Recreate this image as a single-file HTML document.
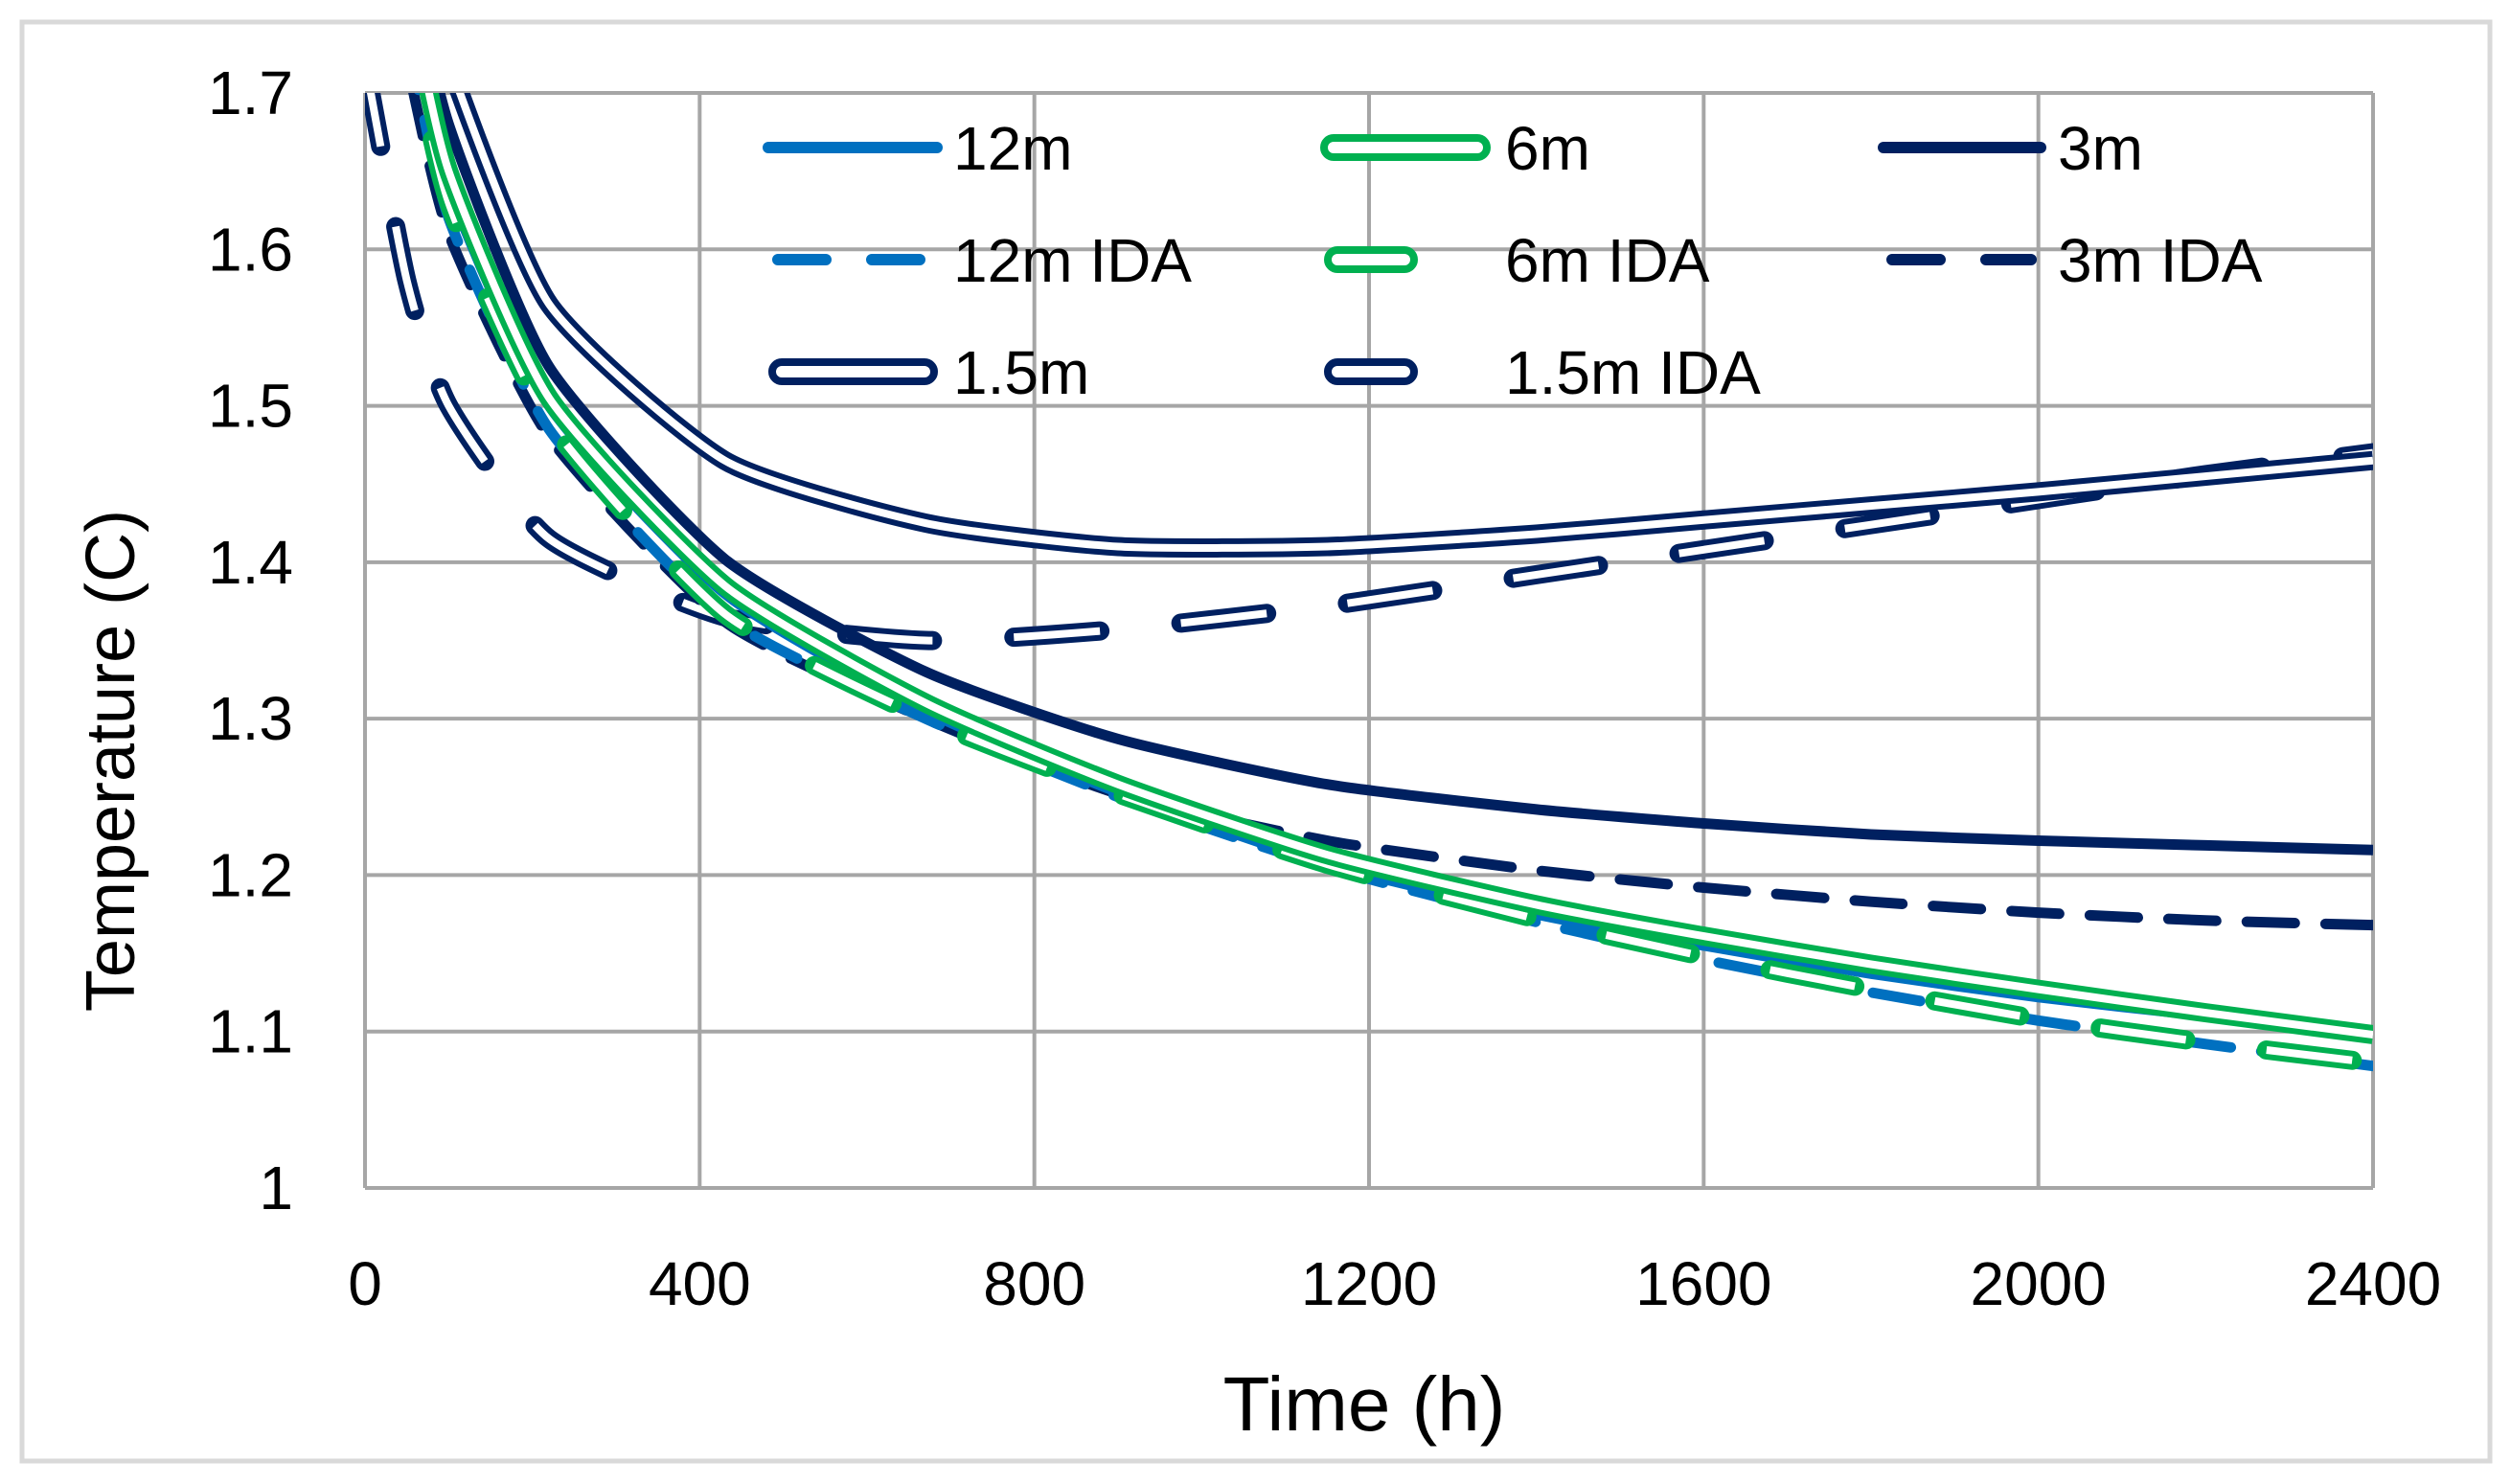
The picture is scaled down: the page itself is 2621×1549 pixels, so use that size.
<!DOCTYPE html>
<html><head><meta charset="utf-8"><style>
html,body{margin:0;padding:0;background:#fff;}
svg{display:block;}
text{font-family:"Liberation Sans",sans-serif;fill:#000;}
</style></head><body>
<svg id="chart" width="2621" height="1549" viewBox="0 0 2621 1549" xmlns="http://www.w3.org/2000/svg">
<rect x="23" y="23" width="2576" height="1502" fill="#fff" stroke="#d9d9d9" stroke-width="5"/>
<defs><clipPath id="plotclip"><rect x="381" y="97" width="2096" height="1143"/></clipPath></defs>
<g id="grid"></g>
<g id="yticks"></g>
<g id="xticks"></g>
<g id="series" clip-path="url(#plotclip)"></g>
<g id="legend"></g>
<text x="1424" y="1493" font-size="80" text-anchor="middle">Time (h)</text>
<text transform="translate(140,794) rotate(-90)" font-size="72" text-anchor="middle">Temperature (C)</text>
</svg>
<script>
const times = [0,50,100,220,430,670,900,1150,1400,1600,1800,2000,2200,2400];
const s12 =    [1.90,1.76,1.64,1.50,1.38,1.305,1.253,1.207,1.175,1.155,1.137,1.122,1.110,1.100];
const s6 =     [1.90,1.77,1.65,1.505,1.385,1.31,1.258,1.213,1.181,1.161,1.143,1.127,1.112,1.098];
const s3 =     [1.95,1.80,1.68,1.525,1.402,1.33,1.287,1.258,1.242,1.233,1.226,1.222,1.219,1.216];
const s12ida = [1.88,1.74,1.62,1.485,1.365,1.30,1.25,1.205,1.170,1.146,1.125,1.107,1.092,1.078];
const s6ida =  [1.88,1.75,1.63,1.49,1.367,1.30,1.252,1.207,1.172,1.148,1.127,1.108,1.093,1.080];
const s3ida =  [1.85,1.72,1.61,1.48,1.362,1.30,1.252,1.222,1.203,1.192,1.183,1.176,1.171,1.168];
const s15 =    [1.95,1.82,1.72,1.565,1.465,1.425,1.410,1.410,1.418,1.427,1.436,1.445,1.455,1.465];
const s15ida = [1.72,1.58,1.50,1.415,1.365,1.350,1.357,1.372,1.392,1.408,1.424,1.440,1.456,1.470];
const yTicks = [1,1.1,1.2,1.3,1.4,1.5,1.6,1.7];
const yTickLabels = ["1","1.1","1.2","1.3","1.4","1.5","1.6","1.7"];
const xTicks = [0,400,800,1200,1600,2000,2400];
const xTickLabels = ["0","400","800","1200","1600","2000","2400"];
const legendLabels = ["12m","6m","3m","12m IDA","6m IDA","3m IDA","1.5m","1.5m IDA"];

const NS="http://www.w3.org/2000/svg";
const X0=381,X1=2477,Y0=1240,Y1=97;
function xs(t){return X0+(t-0)/(2400-0)*(X1-X0);}
function ys(v){return Y0-(v-1)/(1.7-1)*(Y0-Y1);}
function mk(tag,attrs,parent){const e=document.createElementNS(NS,tag);for(const k in attrs)e.setAttribute(k,attrs[k]);parent.appendChild(e);return e;}

const grid=document.getElementById('grid');
yTicks.forEach((v,i)=>{
  const l=mk('line',{x1:X0,x2:X1,y1:ys(v),y2:ys(v),stroke:'#a6a6a6','stroke-width':4},grid);
  
  
  const t=mk('text',{x:306,y:ys(v)+22,'font-size':64,'text-anchor':'end'},document.getElementById('yticks'));
  t.textContent=yTickLabels[i];
  
  
});
xTicks.forEach((v,i)=>{
  const l=mk('line',{x1:xs(v),x2:xs(v),y1:Y1,y2:Y0,stroke:'#a6a6a6','stroke-width':4},grid);
  
  
  const t=mk('text',{x:xs(v),y:1362,'font-size':64,'text-anchor':'middle'},document.getElementById('xticks'));
  t.textContent=xTickLabels[i];
  
  
});

function pathD(vals){
  const p=vals.map((v,i)=>[xs(times[i]),ys(v)]);
  let d='M'+p[0][0]+','+p[0][1];
  for(let i=0;i<p.length-1;i++){
    const a=p[i-1]||p[i],b=p[i],c=p[i+1],e=p[i+2]||c;
    const k=1/10;
    d+=' C'+(b[0]+(c[0]-a[0])*k)+','+(b[1]+(c[1]-a[1])*k)+' '+(c[0]-(e[0]-b[0])*k)+','+(c[1]-(e[1]-b[1])*k)+' '+c[0]+','+c[1];
  }
  return d;
}
const NAVY='#002060',BLUE='#0070c0',GREEN='#00b050';
const styles=[
 {vals:s15ida,c:NAVY,dbl:true,dash:'90 85',name:'series-1-5m-ida'},
 {vals:s15,c:NAVY,dbl:true,dash:null,name:'series-1-5m'},
 {vals:s3,c:NAVY,dbl:false,dash:null,name:'series-3m'},
 {vals:s3ida,c:NAVY,dbl:false,dash:'50 32',name:'series-3m-ida'},
 {vals:s12ida,c:BLUE,dbl:false,dash:'50 32',name:'series-12m-ida'},
 {vals:s12,c:BLUE,dbl:false,dash:null,name:'series-12m'},
 {vals:s6ida,c:GREEN,dbl:true,dash:'90 85',name:'series-6m-ida'},
 {vals:s6,c:GREEN,dbl:true,dash:null,name:'series-6m'}
];
const sg=document.getElementById('series');
function drawStroke(parent,d,st,nm){
  const g=mk('g',{},parent);
  
  
  const a={d:d,fill:'none',stroke:st.c,'stroke-width':st.dbl?20:11,'stroke-linecap':st.dash?'round':'butt','stroke-linejoin':'round'};
  if(st.dash)a['stroke-dasharray']=st.dash;
  mk('path',a,g);
  if(st.dbl){
    const b={d:d,fill:'none',stroke:'#fff','stroke-width':8,'stroke-linecap':'butt','stroke-linejoin':'round'};
    if(st.dash)b['stroke-dasharray']=st.dash;
    mk('path',b,g);
  }
}
styles.forEach(st=>drawStroke(sg,pathD(st.vals),st,st.name));

const lg=document.getElementById('legend');
const legOrder=[
 {st:{c:BLUE,dbl:false,dash:null},lx:[802,978],tx:995,y:154},
 {st:{c:GREEN,dbl:true,dash:null},lx:[1382,1552],tx:1571,y:154},
 {st:{c:NAVY,dbl:false,dash:null},lx:[1966,2130],tx:2148,y:154},
 {st:{c:BLUE,dbl:false,dash:'50 48'},lx:[812,960],tx:995,y:271},
 {st:{c:GREEN,dbl:true,dash:null},lx:[1386,1476],tx:1571,y:271},
 {st:{c:NAVY,dbl:false,dash:'50 48'},lx:[1975,2120],tx:2148,y:271},
 {st:{c:NAVY,dbl:true,dash:null},lx:[806,975],tx:995,y:388},
 {st:{c:NAVY,dbl:true,dash:null},lx:[1386,1476],tx:1571,y:388}
];
legOrder.forEach((o,i)=>{
  const g=mk('g',{},lg);
  
  
  const sw=mk('g',{},g);
  
  
  if(o.st.dbl){
    mk('rect',{x:o.lx[0],y:o.y-10,width:o.lx[1]-o.lx[0],height:20,rx:10,fill:'#fff',stroke:o.st.c,'stroke-width':8},sw);
  } else {
    const a={d:'M'+o.lx[0]+','+o.y+' L'+o.lx[1]+','+o.y,fill:'none',stroke:o.st.c,'stroke-width':12,'stroke-linecap':'round'};
    if(o.st.dash)a['stroke-dasharray']=o.st.dash;
    mk('path',a,sw);
  }
  const t=mk('text',{x:o.tx,y:o.y+23,'font-size':64},g);
  t.textContent=legendLabels[i];
  
  
});
</script>
</body></html>
